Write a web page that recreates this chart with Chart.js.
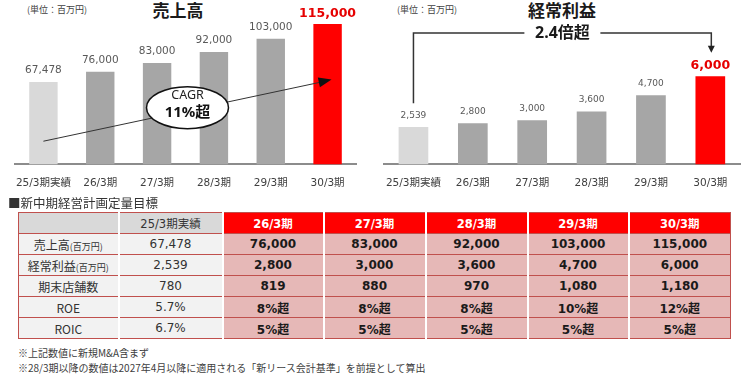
<!DOCTYPE html>
<html lang="ja">
<head>
<meta charset="utf-8">
<script src="https://cdn.jsdelivr.net/npm/chart.js@4.4.1/dist/chart.umd.min.js"></script>
<style>
  body { margin: 0; width: 750px; height: 376px; background: #fff; position: relative; overflow: hidden;
         font-family: "Noto Sans CJK JP", sans-serif; color: #333; }
  .abs { position: absolute; line-height: 1; white-space: nowrap; }
  .unit { font-size: 9px; color: #404040; }
  .title { font-size: 17px; font-weight: bold; color: #1a1a1a; transform: translateX(-50%); }
  .heading { font-size: 12.5px; color: #333; }
  .note { font-size: 10px; color: #404040; }
  #plan { position: absolute; left: 18px; top: 212px; border-collapse: collapse; table-layout: fixed;
          border: 1px solid #c0504d; }
  #plan th, #plan td { height: 20px; padding: 0; text-align: center; border-top: 1.5px solid #c0504d; }
  #plan th + th, #plan td + td { border-left: 2px solid #fff; }
  #plan th { font-size: 12px; font-weight: normal; }
  #plan th.base, #plan th.blank { background: #d9d9d9; color: #333; font-family: "DejaVu Sans", "Noto Sans CJK JP", sans-serif; font-size: 11.5px; }
  #plan th.plan { background: #ff0000; color: #fff; font-weight: bold; font-family: "DejaVu Sans", "Noto Sans CJK JP", sans-serif; font-size: 11.5px; }
  #plan td.label { background: #f2f2f2; font-size: 12px; color: #333; }
  #plan td.label small { font-size: 9px; }
  #plan td.base { background: #f2f2f2; font-family: "DejaVu Sans", "Noto Sans CJK JP", sans-serif; font-size: 12px; color: #333; }
  #plan td.plan { background: #e6b8b7; font-family: "DejaVu Sans", "Noto Sans CJK JP", sans-serif; font-size: 12px; font-weight: bold; color: #1a1a1a; }
</style>
</head>
<body>
<div class="abs unit" style="left:27px; top:5px;">(単位：百万円)</div>
<div class="abs title" style="left:178px; top:1px;">売上高</div>
<div class="abs unit" style="left:397px; top:5px;">(単位：百万円)</div>
<div class="abs title" style="left:562px; top:1px;">経常利益</div>

<canvas id="salesChart" class="abs" style="left:0; top:0;" width="372" height="210"></canvas>
<canvas id="profitChart" class="abs" style="left:372px; top:0;" width="378" height="210"></canvas>

<div class="abs heading" style="left:8px; top:197px;">■新中期経営計画定量目標</div>
<table id="plan"></table>
<div class="abs note" style="left:18px; top:348px;">※上記数値に新規M&amp;A含まず</div>
<div class="abs note" style="left:18px; top:363px;">※28/3期以降の数値は2027年4月以降に適用される「新リース会計基準」を前提として算出</div>

<script>
const periods = ['25/3期実績', '26/3期', '27/3期', '28/3期', '29/3期', '30/3期'];
const sales = [67478, 76000, 83000, 92000, 103000, 115000];
const profit = [2539, 2800, 3000, 3600, 4700, 6000];
const stores = [780, 819, 880, 970, 1080, 1180];
const roe = ['5.7%', '8%超', '8%超', '8%超', '10%超', '12%超'];
const roic = ['6.7%', '5%超', '5%超', '5%超', '5%超', '5%超'];
const barColors = ['#d9d9d9', '#a6a6a6', '#a6a6a6', '#a6a6a6', '#a6a6a6', '#ff0000'];

const fmt = v => v.toLocaleString('en-US');

// value labels above the bars, last one in red bold
const valueLabels = {
    id: 'valueLabels',
    afterDatasetsDraw(chart, args, opts) {
        const ctx = chart.ctx;
        const data = chart.data.datasets[0].data;
        ctx.save();
        ctx.textAlign = 'center';
        ctx.textBaseline = 'alphabetic';
        chart.getDatasetMeta(0).data.forEach((bar, i) => {
            const last = i === data.length - 1;
            ctx.font = last ? `bold ${opts.bigSize}px "DejaVu Sans"` : `${opts.size}px "DejaVu Sans"`;
            ctx.fillStyle = last ? '#e60000' : '#595959';
            ctx.fillText(fmt(data[i]), bar.x, bar.y - (last ? 7 : 9));
        });
        ctx.restore();
    }
};

function arrowHead(ctx, fromX, fromY, toX, toY, len, half) {
    const a = Math.atan2(toY - fromY, toX - fromX);
    ctx.beginPath();
    ctx.moveTo(toX, toY);
    ctx.lineTo(toX - len * Math.cos(a) + half * Math.sin(a), toY - len * Math.sin(a) - half * Math.cos(a));
    ctx.lineTo(toX - len * Math.cos(a) - half * Math.sin(a), toY - len * Math.sin(a) + half * Math.cos(a));
    ctx.closePath();
    ctx.fill();
}

// CAGR arrow + ellipse on the sales chart
const cagrNote = {
    id: 'cagrNote',
    afterDatasetsDraw(chart) {
        const { ctx, scales: { x, y } } = chart;
        const x0 = x.getPixelForValue(0), y0 = y.getPixelForValue(19000);
        const x1 = x.getPixelForValue(5) + 4, y1 = y.getPixelForValue(69500);
        ctx.save();
        ctx.strokeStyle = '#333';
        ctx.fillStyle = '#111';
        ctx.lineWidth = 1;
        ctx.beginPath();
        ctx.moveTo(x0, y0);
        ctx.lineTo(x1 - 8, y1 + 2);
        ctx.stroke();
        arrowHead(ctx, x0, y0, x1, y1, 13, 5);

        const cx = x.getPixelForValue(2.5) + 2, cy = y.getPixelForValue(46500);
        ctx.beginPath();
        ctx.ellipse(cx, cy, 41, 21, 0, 0, Math.PI * 2);
        ctx.fillStyle = '#fff';
        ctx.fill();
        ctx.lineWidth = 1.5;
        ctx.strokeStyle = '#111';
        ctx.stroke();
        ctx.fillStyle = '#222';
        ctx.textAlign = 'center';
        ctx.textBaseline = 'middle';
        ctx.font = '12.5px "Noto Sans", "Noto Sans CJK JP"';
        ctx.fillText('CAGR', cx, cy - 12);
        ctx.font = 'bold 15px "Noto Sans", "Noto Sans CJK JP"';
        ctx.fillStyle = '#111';
        ctx.fillText('11%超', cx, cy + 5);
        ctx.restore();
    }
};

// bracket "2.4倍超" on the profit chart
const growthNote = {
    id: 'growthNote',
    afterDatasetsDraw(chart) {
        const { ctx, scales: { x, y } } = chart;
        const xa = x.getPixelForValue(0), xb = x.getPixelForValue(5) + 1;
        const yLow = y.getPixelForValue(4160), yTop = y.getPixelForValue(8930), yTip = y.getPixelForValue(7600);
        const mid = (xa + xb) / 2;
        ctx.save();
        ctx.strokeStyle = '#333';
        ctx.fillStyle = '#222';
        ctx.lineWidth = 1.5;
        ctx.beginPath();
        ctx.moveTo(xa, yLow);
        ctx.lineTo(xa, yTop);
        ctx.lineTo(mid - 38, yTop);
        ctx.moveTo(mid + 38, yTop);
        ctx.lineTo(xb, yTop);
        ctx.lineTo(xb, yTip - 6);
        ctx.stroke();
        arrowHead(ctx, xb, yTop, xb, yTip, 7, 3.5);
        ctx.fillStyle = '#1a1a1a';
        ctx.textAlign = 'center';
        ctx.textBaseline = 'middle';
        ctx.font = 'bold 16px "Noto Sans", "Noto Sans CJK JP"';
        ctx.fillText('2.4倍超', mid, yTop);
        ctx.restore();
    }
};

function barChart(id, values, yMax, labelOpts, padding, extra) {
    return new Chart(document.getElementById(id), {
        type: 'bar',
        data: {
            labels: periods,
            datasets: [{
                data: values,
                backgroundColor: barColors,
                borderWidth: 0,
                categoryPercentage: 1,
                barPercentage: 0.5
            }]
        },
        options: {
            responsive: false,
            animation: false,
            layout: { padding: padding },
            plugins: {
                legend: { display: false },
                tooltip: { enabled: false },
                valueLabels: labelOpts
            },
            scales: {
                x: {
                    grid: { display: false, drawTicks: false },
                    border: { color: '#8c8c8c', width: 2 },
                    ticks: {
                        color: '#404040', padding: 13, maxRotation: 0, minRotation: 0, autoSkip: false,
                        font: { size: 10.5, family: '"DejaVu Sans", "Noto Sans CJK JP"' }
                    }
                },
                y: { display: false, min: 0, max: yMax }
            }
        },
        plugins: [valueLabels, extra]
    });
}

barChart('salesChart', sales, 131400, { size: 10.5, bigSize: 12.5 }, { left: 15, right: 16, top: 4, bottom: 7 }, cagrNote);
barChart('profitChart', profit, 10910, { size: 9, bigSize: 12.5 }, { left: 11, right: 10, top: 4, bottom: 7 }, growthNote);

// quantitative target table
const tableRows = [
    ['売上高', '(百万円)', sales.map(fmt)],
    ['経常利益', '(百万円)', profit.map(fmt)],
    ['期末店舗数', '', stores.map(fmt)],
    ['ROE', '', roe],
    ['ROIC', '', roic]
];
const colWidths = [100, 104, 101, 102, 102, 101, 102];

const table = document.getElementById('plan');
let html = '<colgroup>' + colWidths.map(w => `<col style="width:${w}px">`).join('') + '</colgroup>';
html += '<tr><th class="blank"></th>' + periods.map((p, i) => `<th class="${i === 0 ? 'base' : 'plan'}">${p}</th>`).join('') + '</tr>';
tableRows.forEach(([name, unit, vals]) => {
    html += `<tr><td class="label">${name}${unit ? '<small>' + unit + '</small>' : ''}</td>` +
        vals.map((v, i) => `<td class="${i === 0 ? 'base' : 'plan'}">${v}</td>`).join('') + '</tr>';
});
table.innerHTML = html;
</script>
</body>
</html>
